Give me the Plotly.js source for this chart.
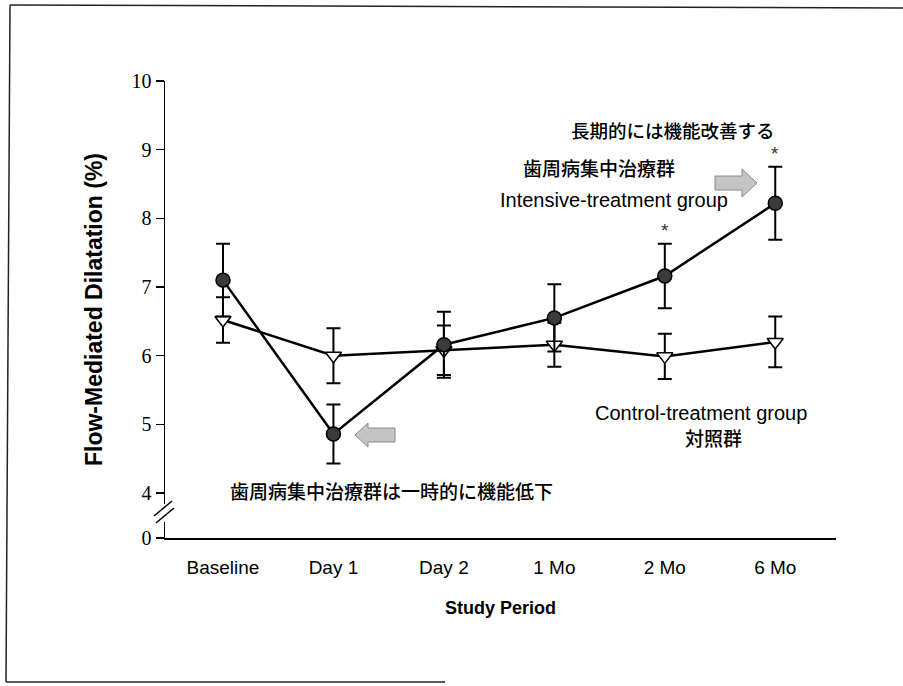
<!DOCTYPE html>
<html>
<head>
<meta charset="utf-8">
<script src="https://cdn.plot.ly/plotly-3.0.1.min.js"></script>
<style>html,body{margin:0;padding:0;background:#fff;}#chart{width:903px;height:686px;}</style>
</head>
<body>
<div id="chart"></div>
<script>
// ---- data ----
var categories = ['Baseline', 'Day 1', 'Day 2', '1 Mo', '2 Mo', '6 Mo'];
var intensiveMean = [7.10, 4.86, 6.16, 6.55, 7.16, 8.22];
var intensiveErr  = [0.53, 0.43, 0.48, 0.49, 0.47, 0.53];
var controlMean   = [6.52, 6.00, 6.08, 6.16, 5.99, 6.20];
var controlErr    = [0.33, 0.40, 0.36, 0.32, 0.33, 0.37];
var significant   = ['2 Mo', '6 Mo'];
var yTickLabels   = ['0', '4', '5', '6', '7', '8', '9', '10'];
var yTickNumbers  = [0, 4, 5, 6, 7, 8, 9, 10];

// ---- layout helpers ----
var W = 903, H = 686, L = 165, R = 67, T = 81, B = 148;
var PW = W - L - R, PH = H - T - B;
function px(x) { return (x - L) / PW; }
function py(y) { return (H - B - y) / PH; }
var ZERO_POS = 3.345; // where the broken-axis "0" sits
var idx = categories.map(function (c, i) { return i; });
var tickVals = yTickNumbers.map(function (v) { return v === 0 ? ZERO_POS : v; });

var JP = '"Noto Sans CJK JP", "Noto Sans CJK SC", sans-serif';
var SANS = '"Liberation Sans", Arial, sans-serif';

var control = {
  x: idx, y: controlMean, type: 'scatter', mode: 'lines+markers',
  line: {color: '#000', width: 2.5},
  marker: {symbol: 'triangle-down', size: 14, color: '#fff', line: {color: '#000', width: 1.5}},
  error_y: {type: 'data', array: controlErr, visible: true, color: '#000', thickness: 2, width: 7},
  hoverinfo: 'skip', showlegend: false
};
var intensive = {
  x: idx, y: intensiveMean, type: 'scatter', mode: 'lines+markers',
  line: {color: '#000', width: 2.5},
  marker: {symbol: 'circle', size: 14, color: '#3a3a3a', line: {color: '#000', width: 1.5}},
  error_y: {type: 'data', array: intensiveErr, visible: true, color: '#000', thickness: 2, width: 7},
  hoverinfo: 'skip', showlegend: false
};

function txt(text, X, Y, size, fam, weight) {
  return {text: text, xref: 'paper', yref: 'paper', x: px(X), y: py(Y),
    xanchor: 'center', yanchor: 'middle', showarrow: false,
    font: {family: fam, size: size, color: '#000', weight: weight || 'normal'}};
}

var annotations = [
  txt('長期的には機能改善する', 673, 130, 18.5, JP, 500),
  txt('歯周病集中治療群', 599, 167, 19, JP, 500),
  txt('Intensive-treatment group', 614, 200, 20, SANS),
  txt('歯周病集中治療群は一時的に機能低下', 391, 490, 19, JP, 500),
  txt('Control-treatment group', 701, 413, 20, SANS),
  txt('対照群', 713, 437, 19, JP, 500)
];
significant.forEach(function (c) {
  var i = categories.indexOf(c);
  annotations.push({text: '*', x: i, y: intensiveMean[i] + intensiveErr[i], xref: 'x', yref: 'y',
    yanchor: 'bottom', yshift: 1, showarrow: false,
    font: {family: SANS, size: 19, color: '#333'}});
});

function pathFromPx(pts) {
  return pts.map(function (p, i) { return (i ? 'L' : 'M') + px(p[0]) + ',' + py(p[1]); }).join(' ') + ' Z';
}
var arrowStyle = {fillcolor: '#c4c4c4', line: {color: '#8a8a8a', width: 1}};
var shapes = [
  // outer frame
  {type: 'line', xref: 'paper', yref: 'paper', x0: px(10), y0: py(5), x1: px(903), y1: py(8), line: {color: '#222', width: 1.5}},
  {type: 'line', xref: 'paper', yref: 'paper', x0: px(10), y0: py(5), x1: px(6), y1: py(682), line: {color: '#222', width: 1.5}},
  {type: 'line', xref: 'paper', yref: 'paper', x0: px(6), y0: py(682), x1: px(445), y1: py(682), line: {color: '#222', width: 1.5}},
  // axis break
  {type: 'rect', xref: 'paper', yref: 'paper', x0: px(161), x1: px(169), y0: py(504), y1: py(522), fillcolor: '#fff', line: {width: 0}, layer: 'above'},
  {type: 'line', xref: 'paper', yref: 'paper', x0: px(154), y0: py(516), x1: px(172), y1: py(501), line: {color: '#000', width: 1.5}, layer: 'above'},
  {type: 'line', xref: 'paper', yref: 'paper', x0: px(156), y0: py(523), x1: px(174), y1: py(508), line: {color: '#000', width: 1.5}, layer: 'above'},
  // right arrow
  Object.assign({type: 'path', xref: 'paper', yref: 'paper', layer: 'above',
    path: pathFromPx([[715, 176], [742, 176], [742, 169], [757, 183], [742, 197], [742, 190], [715, 190]])}, arrowStyle),
  // left arrow
  Object.assign({type: 'path', xref: 'paper', yref: 'paper', layer: 'above',
    path: pathFromPx([[395, 428], [368, 428], [368, 423], [355, 435], [368, 447], [368, 442], [395, 442]])}, arrowStyle)
];

var layout = {
  width: W, height: H,
  margin: {l: L, r: R, t: T, b: B, pad: 0},
  paper_bgcolor: '#fff', plot_bgcolor: '#fff',
  showlegend: false,
  xaxis: {
    range: [-0.525, 5.55], tickvals: idx, ticktext: categories,
    showgrid: false, zeroline: false, showline: true, linecolor: '#000', linewidth: 1.5,
    ticks: 'outside', ticklen: 12, tickcolor: 'rgba(0,0,0,0)',
    tickfont: {family: SANS, size: 19, color: '#000'},
    title: {text: 'Study Period', font: {family: SANS, size: 18, color: '#000', weight: 'bold'}, standoff: 24},
    automargin: false, fixedrange: true
  },
  yaxis: {
    range: [ZERO_POS, 10], tickvals: tickVals, ticktext: yTickLabels,
    showgrid: false, zeroline: false, showline: true, linecolor: '#000', linewidth: 1.5,
    ticks: 'outside', ticklen: 8, tickwidth: 1.5, tickcolor: '#000',
    tickfont: {family: '"Liberation Serif", "Times New Roman", serif', size: 20, color: '#000'},
    title: {text: 'Flow-Mediated Dilatation (%)', font: {family: SANS, size: 23, color: '#000', weight: 'bold'}, standoff: 22},
    automargin: false, fixedrange: true
  },
  annotations: annotations,
  shapes: shapes
};

Plotly.newPlot('chart', [control, intensive], layout, {staticPlot: true, displayModeBar: false});
</script>
</body>
</html>
